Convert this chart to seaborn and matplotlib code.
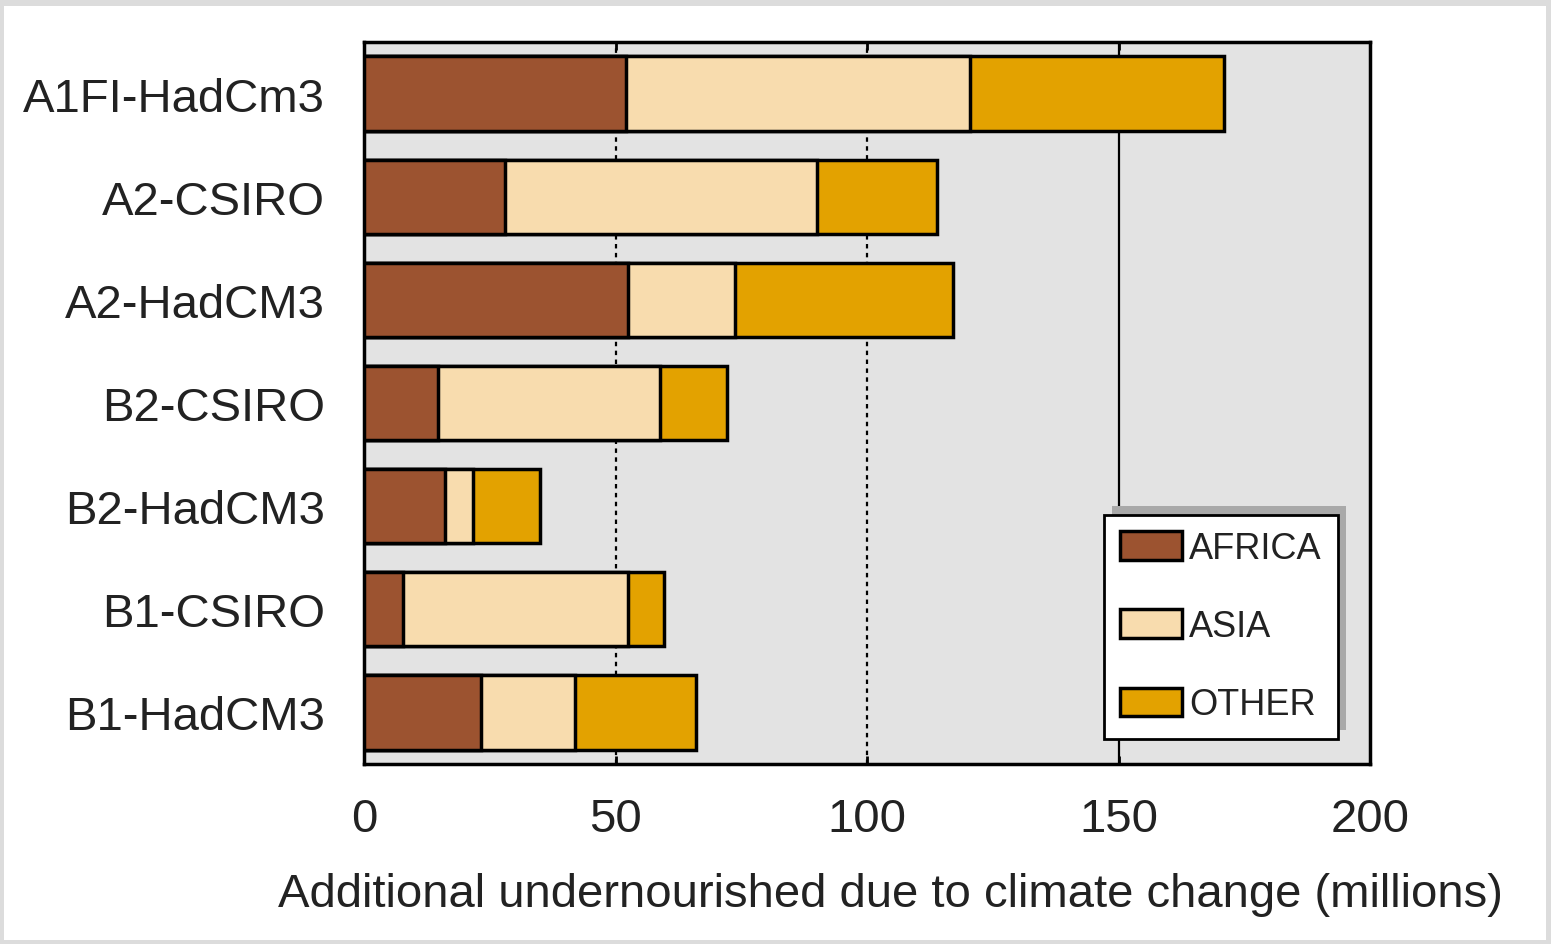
import matplotlib
matplotlib.use("Agg")
import matplotlib.pyplot as plt
from matplotlib.patches import Patch, Rectangle
import numpy as np
import pandas as pd
import seaborn as sns

scenarios = ['A1FI-HadCm3', 'A2-CSIRO', 'A2-HadCM3', 'B2-CSIRO', 'B2-HadCM3', 'B1-CSIRO', 'B1-HadCM3']
africa = [52, 28, 52.5, 14.7, 16.2, 7.8, 23.3]
asia = [68.5, 62, 21.3, 44.1, 5.5, 44.7, 18.6]
other = [50.5, 24, 43.2, 13.4, 13.3, 7.1, 24.1]

regions = ['AFRICA', 'ASIA', 'OTHER']
colors = ['#9c5330', '#f8dcae', '#e3a200']

df = pd.DataFrame({'scenario': scenarios, 'AFRICA': africa, 'ASIA': asia, 'OTHER': other})
# cumulative ends of each segment
df['end_africa'] = df['AFRICA']
df['end_asia'] = df['AFRICA'] + df['ASIA']
df['end_other'] = df['end_asia'] + df['OTHER']

sns.set_style("white")
plt.rcParams['font.family'] = ['Liberation Sans', 'DejaVu Sans']

fig = plt.figure(figsize=(15.51, 9.45), dpi=100)
fig.patch.set_facecolor('#dcdcdc')
fig.patches.append(Rectangle((4/1551, 4/945), 1 - 9/1551, 1 - 11/945,
                             transform=fig.transFigure, facecolor='white',
                             edgecolor='none', zorder=-5))
ax = fig.add_axes([364/1551, 1 - 765/945, 1006/1551, 722/945])
ax.set_facecolor('#e3e3e3')

# draw totals first, then overlay shorter segments
for col, c in zip(['end_other', 'end_asia', 'end_africa'], colors[::-1]):
    sns.barplot(data=df, x=col, y='scenario', orient='h', color=c,
                edgecolor='black', linewidth=2.5, width=0.72, ax=ax,
                saturation=1, zorder=3)

ax.set_xlim(0, 200)
ax.set_ylim(6.5, -0.5)
ax.set_xticks([0, 50, 100, 150, 200])
ax.grid(axis='x', color='black', linewidth=1.6, zorder=1)
gl = ax.xaxis.get_gridlines()
styles = ['-', (0, (2, 2)), (0, (2, 2)), '-', '-']
for line, ls in zip(gl, styles):
    line.set_linestyle(ls)
gl[0].set_visible(False)
gl[-1].set_visible(False)
ax.set_axisbelow(True)

for s in ax.spines.values():
    s.set_color('black')
    s.set_linewidth(2.5)

ax.tick_params(axis='x', direction='in', top=True, bottom=True, length=6, width=2,
               labelsize=34, pad=24, colors='black', labelcolor='#222222')
ax.tick_params(axis='y', length=0, labelsize=34, pad=28, labelcolor='#222222')
ax.set_ylabel('')
ax.set_xlabel('Additional undernourished due to climate change (millions)',
              fontsize=34, color='#222222')
ax.xaxis.set_label_coords(0.523, -0.15)

handles = [Patch(facecolor=c, edgecolor='black', linewidth=2.5) for c in colors]
leg = ax.legend(handles, regions, loc='lower right', bbox_to_anchor=(0.968, 0.035),
                fontsize=26, frameon=True, fancybox=False, framealpha=1,
                edgecolor='black', handlelength=1.7, handleheight=0.85,
                handletextpad=0.2, labelspacing=1.2, borderpad=0.45,
                borderaxespad=0,
                shadow={'ox': 6, 'oy': 6, 'facecolor': '#a9a9a9',
                        'edgecolor': 'none', 'alpha': 1})
leg.get_frame().set_linewidth(2)
for t in leg.get_texts():
    t.set_color('#222222')

fig.savefig('out.png', dpi=100, facecolor=fig.get_facecolor())
